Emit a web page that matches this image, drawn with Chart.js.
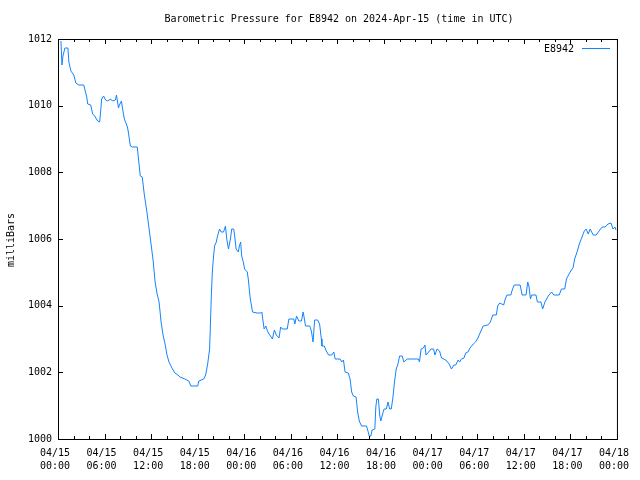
<!DOCTYPE html>
<html>
<head>
<meta charset="utf-8">
<script src="https://cdn.jsdelivr.net/npm/chart.js@4.4.1/dist/chart.umd.min.js"></script>
<style>
  html, body { margin: 0; padding: 0; background: #fff; }
  canvas { display: block; }
</style>
</head>
<body>
<canvas id="pressureChart" width="640" height="480"></canvas>
<script>
// Dados: horas desde 04/15 00:00 UTC e pressão em milliBars
const hours = [
  0.38, 0.51, 0.64, 0.89, 1.28, 1.40, 1.66, 2.04, 2.30, 2.68, 3.32, 3.45, 3.70, 3.83, 4.21, 4.47, 4.72, 5.11, 5.36,
  5.49, 5.62, 5.87, 6.13, 6.38, 6.77, 7.02, 7.40, 7.53, 7.79, 7.91, 8.17, 8.30, 8.55, 8.94, 9.06, 9.32, 9.57,
  10.21, 10.34, 10.60, 10.85, 11.11, 11.49, 11.74, 12.00, 12.26, 12.51, 12.77, 13.02, 13.28, 13.53, 13.79, 14.04,
  14.30, 14.68, 15.06, 15.45, 15.70, 16.34, 16.85, 17.11, 18.00, 18.13, 18.77, 19.02, 19.28, 19.53, 19.62, 19.75,
  19.88, 20.04, 20.17, 20.39, 20.55, 20.81, 21.02, 21.32, 21.45, 21.57, 21.74, 21.96, 22.21, 22.38, 22.63, 22.76,
  22.94, 23.23, 23.36, 23.53, 23.66, 23.87, 24.04, 24.38, 24.51, 24.64, 24.77, 24.93, 25.06, 25.66, 26.13, 26.26,
  26.43, 26.55, 26.77, 26.98, 27.19, 27.62, 27.87, 28.12, 28.47, 28.68, 28.89, 29.53, 29.74, 30.38, 30.51, 30.73,
  31.02, 31.37, 31.57, 31.70, 31.88, 32.43, 32.64, 32.85, 33.06, 33.45, 33.70, 33.92, 34.00, 34.30, 34.56, 34.85,
  35.27, 35.53, 35.70, 36.34, 36.55, 36.77, 36.98, 37.40, 37.62, 37.83, 38.04, 38.39, 38.60, 38.81, 39.10, 39.74,
  39.96, 40.09, 40.30, 40.47, 40.81, 40.94, 41.07, 41.27, 41.45, 41.58, 41.74, 42.00, 42.29, 42.51, 42.72, 42.93,
  43.15, 43.36, 43.57, 43.79, 44.00, 44.34, 44.55, 44.98, 46.43, 46.56, 46.77, 47.07, 47.27, 47.40, 47.74, 48.04,
  48.38, 48.55, 48.83, 49.15, 49.40, 49.96, 50.39, 50.68, 51.00, 51.23, 51.54, 51.74, 51.96, 52.30, 52.51, 52.81,
  53.07, 53.49, 53.78, 54.09, 54.42, 54.77, 55.37, 55.70, 56.00, 56.46, 56.64, 56.90, 57.41, 57.61, 57.83, 58.34,
  58.47, 58.76, 59.53, 59.79, 60.29, 60.51, 60.68, 60.86, 61.02, 61.57, 61.75, 62.21, 62.43, 62.72, 63.15, 63.57,
  63.87, 64.56, 64.85, 65.28, 65.49, 65.83, 66.13, 66.34, 66.55, 66.77, 66.98, 67.15, 67.40, 67.79, 68.04, 68.30,
  68.55, 68.94, 69.32, 69.70, 70.09, 70.47, 70.85, 71.23, 71.49, 71.74, 71.87
];
const pressure = [
  1011.94, 1011.22, 1011.49, 1011.73, 1011.73, 1011.31, 1011.04, 1010.92, 1010.68, 1010.62, 1010.62, 1010.50, 1010.26, 1010.05, 1010.02, 1009.75, 1009.69, 1009.54, 1009.51,
  1009.81, 1010.20, 1010.29, 1010.17, 1010.14, 1010.20, 1010.14, 1010.17, 1010.32, 1009.93, 1010.02, 1010.14, 1009.93, 1009.60, 1009.36, 1009.21, 1008.79, 1008.76,
  1008.76, 1008.46, 1007.89, 1007.86, 1007.35, 1006.75, 1006.30, 1005.82, 1005.34, 1004.71, 1004.35, 1004.11, 1003.51, 1003.12, 1002.85, 1002.52,
  1002.31, 1002.13, 1001.98, 1001.92, 1001.86, 1001.80, 1001.74, 1001.59, 1001.59, 1001.74, 1001.80, 1001.92, 1002.25, 1002.70, 1003.36, 1004.29,
  1005.01, 1005.49, 1005.79, 1005.91, 1006.09, 1006.30, 1006.21, 1006.21, 1006.30, 1006.39, 1006.00, 1005.70, 1006.00, 1006.30, 1006.30, 1006.09,
  1005.70, 1005.61, 1005.79, 1005.91, 1005.49, 1005.31, 1005.10, 1005.01, 1004.80, 1004.50, 1004.20, 1003.99, 1003.81, 1003.78, 1003.78, 1003.81,
  1003.51, 1003.30, 1003.39, 1003.24, 1003.15, 1003.00, 1003.27, 1003.12, 1003.03, 1003.36, 1003.30, 1003.30, 1003.60, 1003.60, 1003.45, 1003.69,
  1003.54, 1003.54, 1003.81, 1003.66, 1003.39, 1003.39, 1003.24, 1002.91, 1003.57, 1003.57, 1003.45, 1003.00, 1002.79, 1002.79, 1002.64, 1002.52,
  1002.52, 1002.61, 1002.40, 1002.40, 1002.31, 1002.37, 1002.01, 1001.98, 1001.80, 1001.41, 1001.29, 1001.26, 1000.81, 1000.54, 1000.39, 1000.39,
  1000.21, 1000.09, 1000.09, 1000.27, 1000.30, 1000.96, 1001.20, 1001.20, 1000.69, 1000.54, 1000.69, 1000.90, 1000.90, 1001.11, 1000.90, 1000.90,
  1001.26, 1001.74, 1002.10, 1002.25, 1002.49, 1002.49, 1002.31, 1002.40, 1002.40, 1002.31, 1002.70, 1002.73, 1002.82, 1002.52, 1002.61, 1002.70,
  1002.70, 1002.52, 1002.70, 1002.64, 1002.43, 1002.37, 1002.25, 1002.10, 1002.22, 1002.22, 1002.37, 1002.31, 1002.40, 1002.43, 1002.58, 1002.61,
  1002.73, 1002.85, 1002.91, 1003.03, 1003.21, 1003.39, 1003.42, 1003.51, 1003.72, 1003.72, 1003.99, 1004.08, 1004.02, 1004.20, 1004.32, 1004.32,
  1004.44, 1004.62, 1004.62, 1004.32, 1004.32, 1004.71, 1004.56, 1004.20, 1004.32, 1004.32, 1004.11, 1004.11, 1003.90, 1004.11, 1004.29, 1004.41,
  1004.32, 1004.32, 1004.50, 1004.50, 1004.80, 1004.95, 1005.07, 1005.13, 1005.40, 1005.55, 1005.70, 1005.85, 1006.00, 1006.24, 1006.30, 1006.15,
  1006.30, 1006.12, 1006.12, 1006.24, 1006.36, 1006.36, 1006.45, 1006.48, 1006.30, 1006.36, 1006.27
];
// Rótulos dos ticks do eixo X (a cada 6 horas)
const dayLabels = ['04/15', '04/15', '04/15', '04/15', '04/16', '04/16', '04/16', '04/16', '04/17', '04/17', '04/17', '04/17', '04/18'];
const timeLabels = ['00:00', '06:00', '12:00', '18:00', '00:00', '06:00', '12:00', '18:00', '00:00', '06:00', '12:00', '18:00', '00:00'];
const yTicks = [1000, 1002, 1004, 1006, 1008, 1010, 1012];

const stationName = 'E8942';
const titleText = 'Barometric Pressure for E8942 on 2024-Apr-15 (time in UTC)';
const yLabel = 'milliBars';
const lineColor = '#1283ff';
const font = '10px "DejaVu Sans Mono", monospace';

// Moldura estilo gnuplot, ticks para dentro, título e legenda
const gnuplotFrame = {
    id: 'gnuplotFrame',
    afterDatasetsDraw(chart) {
        const ctx = chart.ctx;
        const a = chart.chartArea;
        const xs = chart.scales.x;
        const ys = chart.scales.y;
        ctx.save();
        ctx.strokeStyle = '#000';
        ctx.lineWidth = 1;
        ctx.strokeRect(a.left + 0.5, a.top + 0.5, a.right - a.left, a.bottom - a.top);
        ctx.beginPath();
        for (let h = 0; h <= 72; h += 2) {
            const px = Math.round(xs.getPixelForValue(h)) + 0.5;
            const len = h % 6 === 0 ? 5 : 3;
            ctx.moveTo(px, a.bottom);
            ctx.lineTo(px, a.bottom - len);
            ctx.moveTo(px, a.top);
            ctx.lineTo(px, a.top + len);
        }
        yTicks.forEach(v => {
            const py = Math.round(ys.getPixelForValue(v)) + 0.5;
            ctx.moveTo(a.left, py);
            ctx.lineTo(a.left + 5, py);
            ctx.moveTo(a.right, py);
            ctx.lineTo(a.right - 5, py);
        });
        ctx.stroke();

        ctx.fillStyle = '#000';
        ctx.font = font;
        ctx.textBaseline = 'middle';
        ctx.textAlign = 'center';
        ctx.fillText(titleText, 339, 19);

        // legenda
        ctx.textAlign = 'right';
        ctx.fillText(stationName, 574, 49);
        ctx.strokeStyle = lineColor;
        ctx.beginPath();
        ctx.moveTo(582, 48.5);
        ctx.lineTo(610, 48.5);
        ctx.stroke();

        // rótulo do eixo Y
        ctx.translate(11, 240);
        ctx.rotate(-Math.PI / 2);
        ctx.textAlign = 'center';
        ctx.fillText(yLabel, 0, 0);
        ctx.restore();
    }
};

const config = {
    type: 'line',
    data: {
        datasets: [{
            label: stationName,
            data: hours.map((h, i) => ({ x: h, y: pressure[i] })),
            borderColor: lineColor,
            borderWidth: 1,
            pointRadius: 0,
            tension: 0,
            fill: false
        }]
    },
    options: {
        responsive: false,
        animation: false,
        layout: { padding: { top: 39, right: 19, left: 0, bottom: 0 } },
        plugins: {
            legend: { display: false },
            title: { display: false },
            tooltip: { enabled: false }
        },
        scales: {
            x: {
                type: 'linear',
                min: 0,
                max: 72,
                border: { display: false },
                grid: { display: false, drawTicks: false },
                afterBuildTicks: scale => {
                    scale.ticks = dayLabels.map((d, i) => ({ value: i * 6 }));
                },
                afterFit: scale => { scale.height = 41; },
                ticks: {
                    color: '#000',
                    font: { family: '"DejaVu Sans Mono", monospace', size: 10, lineHeight: 1.3 },
                    padding: 8,
                    maxRotation: 0,
                    autoSkip: false,
                    labelOffset: -3,
                    callback: (value) => {
                        const i = Math.round(value / 6);
                        return [dayLabels[i], timeLabels[i]];
                    }
                }
            },
            y: {
                min: 1000,
                max: 1012,
                border: { display: false },
                grid: { display: false, drawTicks: false },
                afterBuildTicks: scale => {
                    scale.ticks = yTicks.map(v => ({ value: v }));
                },
                afterFit: scale => { scale.width = 58; },
                ticks: {
                    color: '#000',
                    font: { family: '"DejaVu Sans Mono", monospace', size: 10 },
                    padding: 6,
                    autoSkip: false,
                    callback: (value) => String(value)
                }
            }
        }
    },
    plugins: [gnuplotFrame]
};

const chartCanvas = document.getElementById('pressureChart');
new Chart(chartCanvas.getContext('2d'), config);
</script>
</body>
</html>
